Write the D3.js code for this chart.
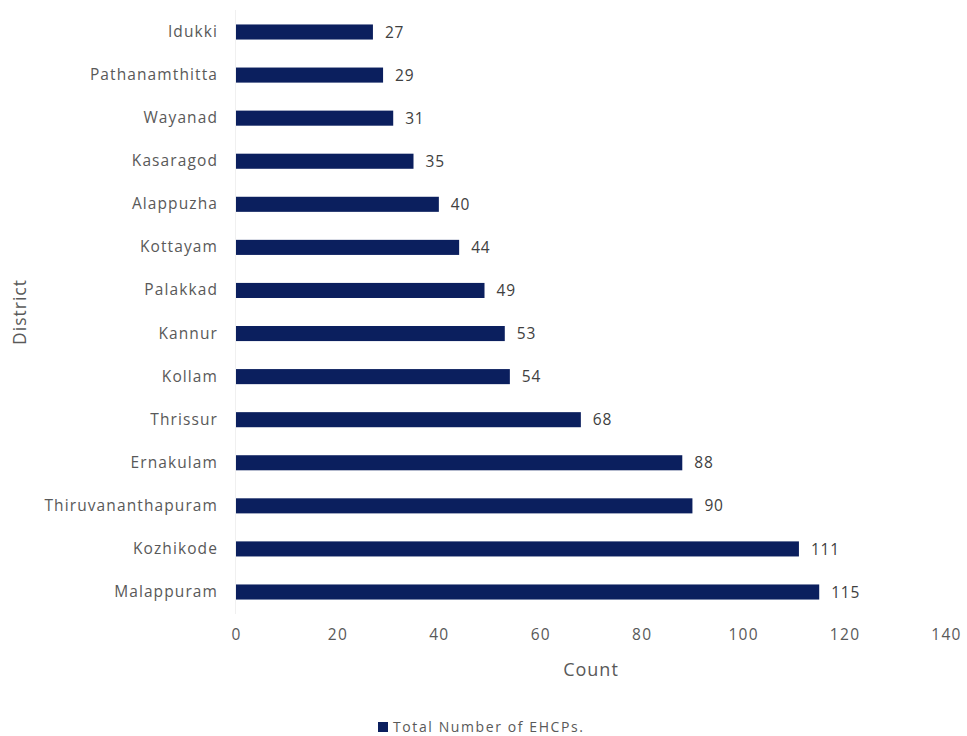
<!DOCTYPE html>
<html>
<head>
<meta charset="utf-8">
<script src="https://cdn.jsdelivr.net/npm/d3@7"></script>
<style>
  html, body { margin: 0; padding: 0; background: #fff; }
  svg { display: block; }
  text { font-family: "Open Sans", "Noto Sans", sans-serif; }
</style>
</head>
<body>
<svg id="chart" width="967" height="736"></svg>
<script>
// Environmental health contact points per district
const districts = ["Idukki", "Pathanamthitta", "Wayanad", "Kasaragod", "Alappuzha", "Kottayam",
  "Palakkad", "Kannur", "Kollam", "Thrissur", "Ernakulam", "Thiruvananthapuram", "Kozhikode", "Malappuram"];
const counts = [27, 29, 31, 35, 40, 44, 49, 53, 54, 68, 88, 90, 111, 115];
const xTicks = [0, 20, 40, 60, 80, 100, 120, 140];
const seriesName = "Total Number of EHCPs.";

const data = districts.map((d, i) => ({ district: d, count: counts[i] }));

const svg = d3.select("#chart");
const barColor = "#0b1f5e";
const textColor = "#595959";
const font = '"Open Sans", "Noto Sans", sans-serif';

const x = d3.scaleLinear().domain([0, 140]).range([236, 946]);
const y = d3.scaleBand().domain(districts).range([10.46, 613.54])
  .paddingInner(0.65).paddingOuter(0.325);

// faint baseline along the category axis
svg.append("line")
  .attr("x1", x(0) - 0.5).attr("x2", x(0) - 0.5)
  .attr("y1", 10).attr("y2", 614)
  .attr("stroke", "#f0f0f0").attr("stroke-width", 1);

// bars
svg.append("g").selectAll("rect").data(data).join("rect")
  .attr("x", x(0))
  .attr("y", d => y(d.district))
  .attr("width", d => x(d.count) - x(0))
  .attr("height", y.bandwidth())
  .attr("fill", barColor);

// value labels
svg.append("g").selectAll("text").data(data).join("text")
  .attr("x", d => x(d.count) + 12)
  .attr("y", d => y(d.district) + y.bandwidth() / 2)
  .attr("dy", "0.36em")
  .attr("font-size", 15.5)
  .attr("letter-spacing", 0.8)
  .attr("fill", "#404040")
  .text(d => d.count);

// category axis
const yAxis = d3.axisLeft(y).tickSize(0).tickPadding(18);
const gy = svg.append("g").attr("transform", `translate(${x(0)},0)`).call(yAxis);
gy.select(".domain").remove();
gy.selectAll("text").attr("font-size", 15.5).attr("fill", textColor)
  .attr("letter-spacing", 1.1)
  .style("font-family", font);

// value axis
const xAxis = d3.axisBottom(x).tickValues(xTicks).tickSize(0).tickPadding(0);
const gx = svg.append("g").attr("transform", "translate(0,629)").call(xAxis);
gx.select(".domain").remove();
gx.selectAll("text").attr("font-size", 15.5).attr("fill", textColor)
  .attr("letter-spacing", 1.3)
  .style("font-family", font);

// axis titles
svg.append("text")
  .attr("x", 591).attr("y", 670)
  .attr("dy", "0.35em")
  .attr("text-anchor", "middle")
  .attr("font-size", 18).attr("letter-spacing", 1)
  .attr("fill", textColor)
  .text("Count");

svg.append("text")
  .attr("transform", "translate(20,312) rotate(-90)")
  .attr("dy", "0.35em")
  .attr("text-anchor", "middle")
  .attr("font-size", 17.5).attr("letter-spacing", 1)
  .attr("fill", textColor)
  .text("District");

// legend
const legend = svg.append("g").attr("transform", "translate(378,727)");
legend.append("rect")
  .attr("x", 0).attr("y", -5).attr("width", 10).attr("height", 10)
  .attr("fill", barColor);
legend.append("text")
  .attr("x", 15).attr("y", 0)
  .attr("dy", "0.36em")
  .attr("font-size", 14).attr("letter-spacing", 1.6)
  .attr("fill", textColor)
  .text(seriesName);
</script>
</body>
</html>
